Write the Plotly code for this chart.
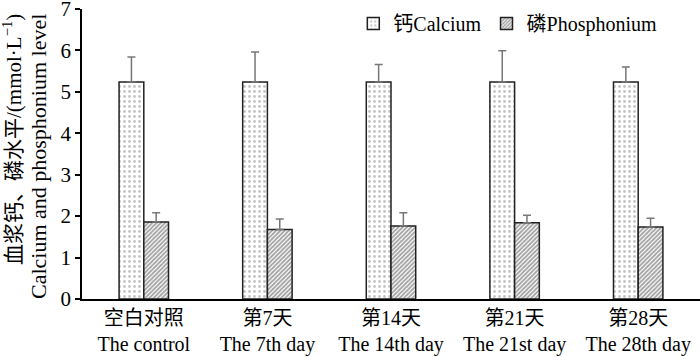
import plotly.graph_objects as go

categories = ["空白对照<br>The control", "第7天<br>The 7th day", "第14天<br>The 14th day",
              "第21天<br>The 21st day", "第28天<br>The 28th day"]
calcium = [5.24, 5.24, 5.24, 5.24, 5.24]
calcium_err = [0.60, 0.72, 0.42, 0.75, 0.36]
phosphorus = [1.86, 1.68, 1.76, 1.84, 1.74]
phosphorus_err = [0.22, 0.25, 0.32, 0.18, 0.21]
y_ticks = [0, 1, 2, 3, 4, 5, 6, 7]
y_title_cn = "血浆钙、磷水平/(mmol·L<sup>−1</sup>)"
y_title_en = "Calcium and phosphonium level"

FONT = "Liberation Serif, Times New Roman, Noto Sans CJK SC, serif"

fig = go.Figure()
fig.add_trace(go.Bar(
    x=categories, y=calcium, name="钙Calcium",
    marker=dict(color="white", line=dict(color="#222", width=1.5),
                pattern=dict(shape=".", fgcolor="#888", bgcolor="white", size=5, solidity=0.25)),
    error_y=dict(type="data", array=calcium_err, arrayminus=[0]*5, symmetric=False,
                 color="#777", thickness=1.5, width=4),
))
fig.add_trace(go.Bar(
    x=categories, y=phosphorus, name="磷Phosphonium",
    marker=dict(color="white", line=dict(color="#222", width=1.5),
                pattern=dict(shape="/", fgcolor="#444", bgcolor="white", size=3, solidity=0.6)),
    error_y=dict(type="data", array=phosphorus_err, arrayminus=[0]*5, symmetric=False,
                 color="#777", thickness=1.5, width=4),
))

# y-axis title lines as rotated annotations (paper coords: plot spans y 9..299 px, x 82..700 px)
fig.add_annotation(text=y_title_cn, xref="paper", yref="paper",
                   x=(12 - 82) / 618, y=(299 - 140) / 290, xanchor="center", yanchor="middle",
                   textangle=-90, showarrow=False, font=dict(family=FONT, size=21))
fig.add_annotation(text=y_title_en, xref="paper", yref="paper",
                   x=(38 - 82) / 618, y=(299 - 157) / 290, xanchor="center", yanchor="middle",
                   textangle=-90, showarrow=False, font=dict(family=FONT, size=22))

fig.update_layout(
    width=700, height=357,
    margin=dict(l=82, r=0, t=9, b=58),
    paper_bgcolor="white", plot_bgcolor="white",
    font=dict(family=FONT, size=20, color="black"),
    barmode="group", bargap=0.6, bargroupgap=0,
    showlegend=True,
    legend=dict(orientation="h", x=0.439, y=0.95, xanchor="left", yanchor="middle",
                font=dict(family=FONT, size=20), bgcolor="rgba(0,0,0,0)",
                itemwidth=30, tracegroupgap=0),
    xaxis=dict(showline=True, linecolor="black", linewidth=1.5, ticks="",
               showgrid=False, automargin=False, tickfont=dict(family=FONT, size=20)),
    yaxis=dict(range=[0, 7], tickmode="array", tickvals=y_ticks,
               ticktext=[str(v) for v in y_ticks],
               showline=True, linecolor="black", linewidth=1.5,
               ticks="outside", ticklen=5, tickwidth=1.5, tickcolor="black",
               showgrid=False, zeroline=False, automargin=False,
               ticklabeloverflow="allow",
               tickfont=dict(family=FONT, size=21)),
)

fig.write_html("out.html", config={"displayModeBar": False},
               post_script="document.body.style.margin='0';document.body.style.overflow='hidden';")
